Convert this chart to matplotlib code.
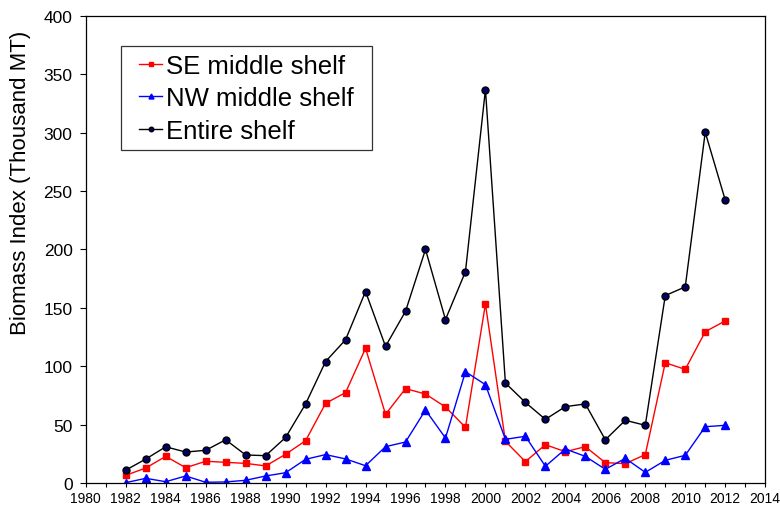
import matplotlib
matplotlib.use('Agg')
import matplotlib.pyplot as plt
from matplotlib.ticker import MultipleLocator
from matplotlib.path import Path

plt.rcParams['font.family'] = ['Liberation Sans', 'DejaVu Sans']

years = list(range(1982, 2013))

se_middle = [6.6, 12.8, 22.8, 13.1, 18.6, 17.7, 16.8, 14.6, 24.6, 36.2,
             68.2, 77.4, 115.4, 58.8, 80.8, 76.2, 65.1, 47.7, 153.3, 35.7,
             18.3, 32.8, 26.8, 31.1, 17.4, 16.6, 24.3, 103.0, 97.3, 129.6, 138.8]
nw_middle = [0.3, 4.0, 1.1, 6.0, 0.6, 0.9, 2.3, 6.0, 8.8, 20.3,
             24.3, 20.6, 14.8, 31.1, 35.1, 62.5, 38.5, 95.3, 84.2, 37.4,
             40.0, 14.3, 29.1, 22.8, 11.7, 21.1, 9.1, 19.4, 23.7, 48.2, 49.4]
entire = [11.0, 20.5, 31.0, 26.5, 28.0, 37.0, 24.0, 23.4, 39.0, 67.7,
          104.0, 122.7, 164.0, 117.0, 147.0, 200.0, 140.0, 181.0, 337.0, 85.6,
          69.0, 54.5, 65.4, 67.7, 37.0, 53.7, 49.4, 160.5, 168.0, 300.4, 242.4]


def wide_box(x0, y0, width, height, mutation_size):
    # legend frame with extra room left and right only
    px = 0.4 * mutation_size
    return Path([(x0 - px, y0), (x0 + width + px, y0),
                 (x0 + width + px, y0 + height), (x0 - px, y0 + height),
                 (x0 - px, y0)], closed=True)


fig = plt.figure(figsize=(7.8, 5.06), dpi=100)
ax = fig.add_axes([0.110, 0.0435, 0.871, 0.923])

ax.plot(years, se_middle, color='#ff0000', marker='s', markersize=5,
        linewidth=1, label='SE middle shelf')
ax.plot(years, nw_middle, color='#0000ff', marker='^', markersize=5.5,
        linewidth=1, label='NW middle shelf')
ax.plot(years, entire, color='black', marker='o', markersize=5,
        markerfacecolor='#000066', markeredgecolor='black',
        linewidth=1, label='Entire shelf')

ax.set_xlim(1980, 2014)
ax.set_ylim(0, 400)
ax.xaxis.set_major_locator(MultipleLocator(2))
ax.xaxis.set_minor_locator(MultipleLocator(1))
ax.yaxis.set_major_locator(MultipleLocator(50))
ax.tick_params(axis='x', which='major', labelsize=10, direction='out', length=3, width=0.8, pad=2.5)
ax.tick_params(axis='x', which='minor', direction='out', length=3, width=0.8)
ax.tick_params(axis='y', labelsize=12.5, direction='out', length=4.5, width=0.8, pad=5)
ax.set_ylabel('Biomass Index (Thousand MT)', fontsize=16)
ax.yaxis.set_label_coords(-0.08, 0.645)

for sp in ax.spines.values():
    sp.set_linewidth(0.9)
    sp.set_color('black')

leg = ax.legend(loc='upper left', bbox_to_anchor=(0.067, 0.936), borderaxespad=0,
                fontsize=18.5, handlelength=0.9, handletextpad=0.15, markerscale=0.65,
                fancybox=False, framealpha=1, borderpad=0.3, labelspacing=0.33)
leg.get_frame().set_boxstyle(wide_box)
leg.get_frame().set_edgecolor('#333333')
leg.get_frame().set_linewidth(0.9)

fig.savefig('out.png', dpi=100)
